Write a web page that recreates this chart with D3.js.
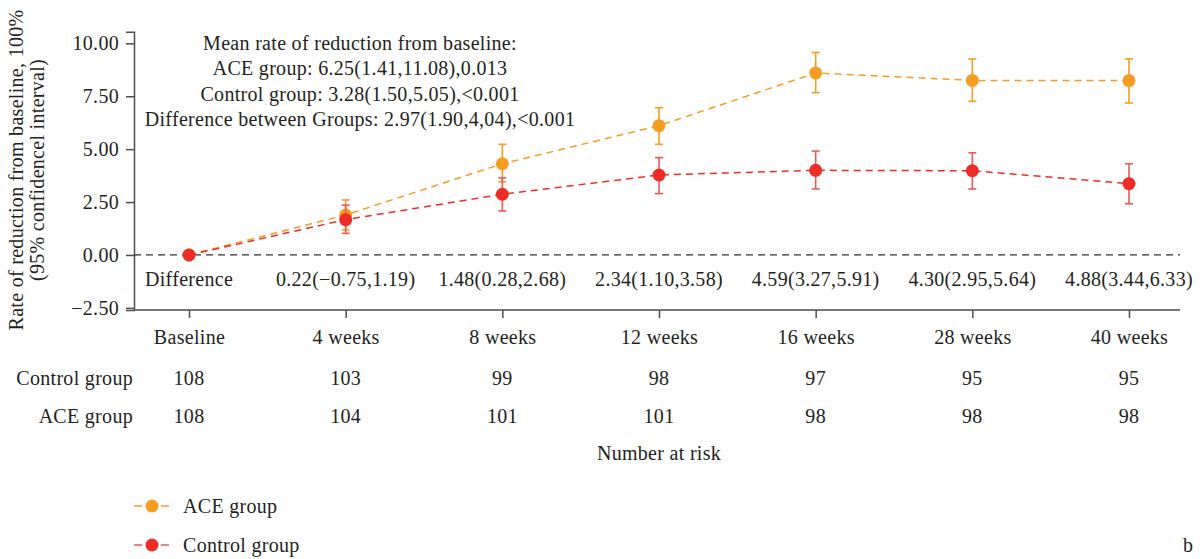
<!DOCTYPE html>
<html>
<head>
<meta charset="utf-8">
<script src="https://cdn.jsdelivr.net/npm/d3@7"></script>
<style>
  html, body { margin: 0; padding: 0; background: #fff; }
  svg text { font-family: "Liberation Serif", "DejaVu Serif", serif; fill: #231f20; letter-spacing: 0.3px; }
</style>
</head>
<body>
<svg id="chart" width="1200" height="559"></svg>
<script>
// Visit labels
const timepoints = ["Baseline", "4 weeks", "8 weeks", "12 weeks", "16 weeks", "28 weeks", "40 weeks"];

// ACE group: mean rate of reduction with 95% CI
const aceMean  = [0, 1.89, 4.31, 6.11, 8.60, 8.25, 8.24];
const aceLower = [0, 1.18, 3.46, 5.23, 7.67, 7.26, 7.18];
const aceUpper = [0, 2.60, 5.23, 6.96, 9.57, 9.26, 9.27];

// Control group: mean rate of reduction with 95% CI
const ctlMean  = [0, 1.67, 2.87, 3.78, 4.00, 3.98, 3.37];
const ctlLower = [0, 1.02, 2.08, 2.90, 3.12, 3.12, 2.42];
const ctlUpper = [0, 2.36, 3.65, 4.60, 4.91, 4.83, 4.31];

// Between-group difference text per visit
const differenceLabels = ["", "0.22(\u22120.75,1.19)", "1.48(0.28,2.68)", "2.34(1.10,3.58)",
                          "4.59(3.27,5.91)", "4.30(2.95,5.64)", "4.88(3.44,6.33)"];

// Number at risk
const riskControl = [108, 103, 99, 98, 97, 95, 95];
const riskACE     = [108, 104, 101, 101, 98, 98, 98];

const yTicks = [-2.5, 0, 2.5, 5, 7.5, 10];

const summaryLines = [
  "Mean rate of reduction from baseline:",
  "ACE group: 6.25(1.41,11.08),0.013",
  "Control group: 3.28(1.50,5.05),<0.001",
  "Difference between Groups: 2.97(1.90,4,04),<0.001"
];

const ACE_COLOR = "#f59d22";
const CTL_COLOR = "#ec2d27";
const CTL_BAR = "#ea5a55";
const INK = "#231f20";
const FS = 20;

const svg = d3.select("#chart");

const x = d3.scalePoint().domain(timepoints).range([189, 1129]);
const y = d3.scaleLinear().domain([-2.6, 10.55]).range([310, 31.7]);
const axisLeftX = 134, axisRightX = 1180;

// Y axis
const yAxis = svg.append("g")
  .attr("transform", `translate(${axisLeftX},0)`)
  .call(d3.axisLeft(y).tickValues(yTicks).tickFormat(d3.format(".2f")).tickSizeOuter(0).tickSize(8).tickPadding(7));
yAxis.selectAll("path, line").attr("stroke", "#4d4d4d").attr("stroke-width", 1.5);
yAxis.selectAll("text").attr("font-size", FS).style("font-family", '"Liberation Serif", serif').attr("fill", INK);

// X axis baseline and ticks
const xAxis = svg.append("g")
  .attr("transform", `translate(0,310)`)
  .call(d3.axisBottom(x).tickSize(8).tickPadding(12));
xAxis.select(".domain").remove();
xAxis.append("line").attr("x1", axisLeftX).attr("x2", axisRightX).attr("y1", 0).attr("y2", 0)
  .attr("stroke", "#4d4d4d").attr("stroke-width", 1.5);
xAxis.selectAll("line").attr("stroke", "#4d4d4d").attr("stroke-width", 1.5);
xAxis.selectAll("text").attr("font-size", FS).style("font-family", '"Liberation Serif", serif').attr("fill", INK);

// Zero reference line
svg.append("line")
  .attr("x1", axisLeftX).attr("x2", axisRightX)
  .attr("y1", y(0)).attr("y2", y(0))
  .attr("stroke", "#333").attr("stroke-width", 1.3).attr("stroke-dasharray", "7,5");

// Y axis title
const yTitle = svg.append("text")
  .attr("transform", "translate(23,170) rotate(-90)")
  .attr("text-anchor", "middle").attr("font-size", FS);
yTitle.append("tspan").attr("x", 0).attr("dy", 0).text("Rate of reduction from baseline, 100%");
yTitle.append("tspan").attr("x", 0).attr("dy", 21).text("(95% confidencel interval)");

// Summary annotation
svg.append("g").selectAll("text").data(summaryLines).join("text")
  .attr("x", 360).attr("y", (d, i) => 50 + i * 25.3)
  .attr("text-anchor", "middle").attr("font-size", FS).text(d => d);

// Series drawing
function drawSeries(mean, lower, upper, color, barColor) {
  const g = svg.append("g");
  const pts = timepoints.map((t, i) => ({ t, m: mean[i], lo: lower[i], hi: upper[i] }));
  g.append("path").datum(pts)
    .attr("fill", "none").attr("stroke", color).attr("stroke-width", 1.5)
    .attr("stroke-dasharray", "7,5")
    .attr("d", d3.line().x(d => x(d.t)).y(d => y(d.m)));
  const bars = g.selectAll(".err").data(pts.filter(d => d.hi !== d.lo)).join("g");
  bars.append("line").attr("x1", d => x(d.t)).attr("x2", d => x(d.t))
    .attr("y1", d => y(d.lo)).attr("y2", d => y(d.hi))
    .attr("stroke", barColor).attr("stroke-width", 1.6);
  [d => d.lo, d => d.hi].forEach(acc => {
    bars.append("line").attr("x1", d => x(d.t) - 4).attr("x2", d => x(d.t) + 4)
      .attr("y1", d => y(acc(d))).attr("y2", d => y(acc(d)))
      .attr("stroke", barColor).attr("stroke-width", 1.6);
  });
  g.selectAll("circle").data(pts).join("circle")
    .attr("cx", d => x(d.t)).attr("cy", d => y(d.m)).attr("r", 6.5)
    .attr("fill", color);
}
drawSeries(aceMean, aceLower, aceUpper, ACE_COLOR, ACE_COLOR);
drawSeries(ctlMean, ctlLower, ctlUpper, CTL_COLOR, CTL_BAR);

// Difference row
svg.append("text").attr("x", 145).attr("y", 286).attr("font-size", FS).text("Difference");
svg.append("g").selectAll("text").data(timepoints.map((t, i) => ({ t, s: differenceLabels[i] })).filter(d => d.s))
  .join("text").attr("x", d => x(d.t)).attr("y", 286)
  .attr("text-anchor", "middle").attr("font-size", FS).text(d => d.s);

// Number at risk table
const riskRows = [
  { label: "Control group", values: riskControl, yPos: 385 },
  { label: "ACE group", values: riskACE, yPos: 423 }
];
riskRows.forEach(row => {
  svg.append("text").attr("x", 133).attr("y", row.yPos).attr("text-anchor", "end")
    .attr("font-size", FS).text(row.label);
  svg.append("g").selectAll("text").data(row.values).join("text")
    .attr("x", (d, i) => x(timepoints[i])).attr("y", row.yPos)
    .attr("text-anchor", "middle").attr("font-size", FS).text(d => d);
});
svg.append("text").attr("x", 659).attr("y", 460).attr("text-anchor", "middle")
  .attr("font-size", FS).text("Number at risk");

// Legend
const legendItems = [
  { label: "ACE group", color: ACE_COLOR, line: ACE_COLOR, yPos: 506 },
  { label: "Control group", color: CTL_COLOR, line: CTL_BAR, yPos: 545 }
];
const lg = svg.append("g").selectAll("g").data(legendItems).join("g")
  .attr("transform", d => `translate(0,${d.yPos})`);
lg.append("line").attr("x1", 134).attr("x2", 169).attr("y1", 0).attr("y2", 0)
  .attr("stroke", d => d.line).attr("stroke-width", 1.5).attr("stroke-dasharray", "8,19");
lg.append("circle").attr("cx", 152).attr("cy", 0).attr("r", 6.5).attr("fill", d => d.color);
lg.append("text").attr("x", 183).attr("y", 7).attr("font-size", FS).text(d => d.label);

// Panel letter
svg.append("text").attr("x", 1183).attr("y", 552).attr("font-size", FS).text("b");
</script>
</body>
</html>
